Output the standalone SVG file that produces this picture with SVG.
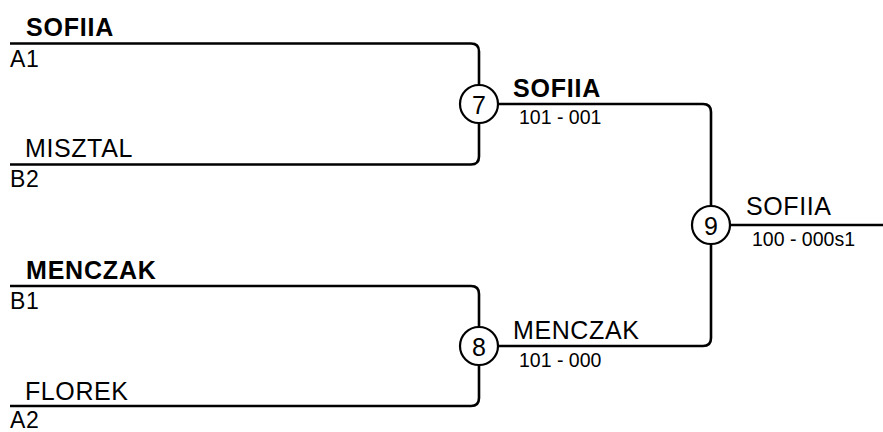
<svg xmlns="http://www.w3.org/2000/svg" width="883" height="432" viewBox="0 0 883 432">
<style>
.ln{fill:none;stroke:#000;stroke-width:2.6}
.nd{fill:#fff;stroke:#000;stroke-width:2.2}
text{font-family:"Liberation Sans",Arial,sans-serif;fill:#000}
.nm{font-size:25px;letter-spacing:0.6px}
.b{font-weight:bold;letter-spacing:0.8px}
.cd{font-size:23px;letter-spacing:0.6px}
.sc{font-size:19.5px}
.num{font-size:25px;text-anchor:middle}
</style>
<rect width="883" height="432" fill="#fff"/>
<g id="connectors">
<path class="ln" d="M10,43.5 H471 Q479,43.5 479,51.5 V85"/>
<path class="ln" d="M10,164.5 H471 Q479,164.5 479,156.5 V123"/>
<path class="ln" d="M10,286 H471 Q479,286 479,294 V327"/>
<path class="ln" d="M10,406 H471 Q479,406 479,398 V365"/>
<path class="ln" d="M498,104 H703 Q711,104 711,112 V206"/>
<path class="ln" d="M498,346 H703 Q711,346 711,338 V244"/>
<path class="ln" d="M730,225 H883"/>
</g>
<g id="entry-sofiia">
<text class="nm b" x="26" y="35.5">SOFIIA</text>
<text class="cd" x="10" y="66.5">A1</text>
</g>
<g id="entry-misztal">
<text class="nm" x="25" y="156.5">MISZTAL</text>
<text class="cd" x="10" y="187">B2</text>
</g>
<g id="entry-menczak">
<text class="nm b" x="26" y="278.5">MENCZAK</text>
<text class="cd" x="10" y="308.5">B1</text>
</g>
<g id="entry-florek">
<text class="nm" x="25" y="399.5">FLOREK</text>
<text class="cd" x="10" y="427.5">A2</text>
</g>
<g id="match-7">
<circle class="nd" cx="479" cy="104" r="19"/>
<text class="num" x="479" y="113.5">7</text>
<text class="nm b" x="513" y="96.5">SOFIIA</text>
<text class="sc" x="519" y="124">101 - 001</text>
</g>
<g id="match-8">
<circle class="nd" cx="479" cy="346" r="19"/>
<text class="num" x="479" y="355.5">8</text>
<text class="nm" x="513" y="338.5">MENCZAK</text>
<text class="sc" x="519" y="366.5">101 - 000</text>
</g>
<g id="match-9">
<circle class="nd" cx="711" cy="225" r="19"/>
<text class="num" x="711" y="234.5">9</text>
<text class="nm" x="746" y="214.5">SOFIIA</text>
<text class="sc" x="752" y="245.5">100 - 000s1</text>
</g>
</svg>
